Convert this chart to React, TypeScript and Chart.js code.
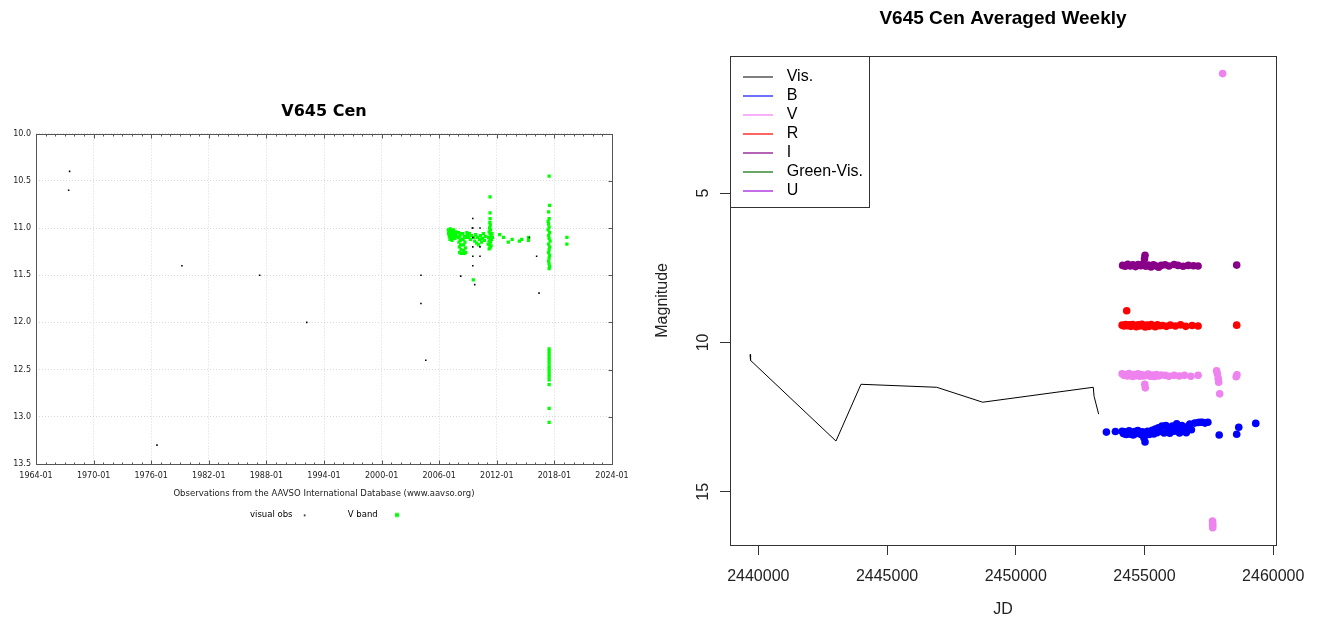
import { useEffect, useRef } from "react";
import { Chart, registerables } from "chart.js";

Chart.register(...registerables);

// ================= Left panel: AAVSO light curve =================
const leftTitle = "V645 Cen";
const leftXTitle = "Observations from the AAVSO International Database (www.aavso.org)";
const leftXTicks = [1964, 1970, 1976, 1982, 1988, 1994, 2000, 2006, 2012, 2018, 2024];
const leftYTicks = [10.0, 10.5, 11.0, 11.5, 12.0, 12.5, 13.0, 13.5];
const leftSeriesNames = ["visual obs", "V band"];

// [decimal year, magnitude]
const visualObs: [number, number][] = [
  [1967.5, 10.4], [1967.4, 10.6], [1976.6, 13.3], [1979.2, 11.4], [1987.3, 11.5],
  [1992.2, 12.0], [2004.1, 11.5], [2004.1, 11.8], [2004.6, 12.4], [2008.24, 11.51],
  [2009.5, 10.9], [2009.5, 11.0], [2009.45, 11.0], [2009.5, 11.1], [2009.5, 11.2],
  [2009.5, 11.3], [2009.5, 11.4], [2009.7, 11.6], [2010.25, 11.0], [2010.25, 11.2],
  [2010.25, 11.3], [2015.4, 11.1], [2016.15, 11.3], [2016.4, 11.69],
];

const vBand: [number, number][] = [
  [2006.95, 11.02], [2006.98, 11.06], [2007.02, 11.03], [2007.05, 11.09], [2007.08, 11.05],
  [2007.12, 11.12], [2007.15, 11.01], [2007.18, 11.07], [2007.22, 11.1], [2007.25, 11.04],
  [2007.3, 11.08], [2007.34, 11.13], [2007.38, 11.03], [2007.42, 11.06], [2007.46, 11.1],
  [2007.5, 11.02], [2007.55, 11.08], [2007.6, 11.05], [2007.65, 11.11], [2007.7, 11.07],
  [2007.75, 11.04], [2007.8, 11.09],
  [2008.0, 11.05], [2008.03, 11.1], [2008.06, 11.15], [2008.1, 11.2], [2008.13, 11.26],
  [2008.17, 11.08], [2008.2, 11.13], [2008.23, 11.18], [2008.27, 11.23], [2008.3, 11.27],
  [2008.33, 11.12], [2008.35, 11.06],
  [2008.45, 11.06], [2008.5, 11.12], [2008.53, 11.18], [2008.57, 11.24], [2008.6, 11.27],
  [2008.64, 11.09], [2008.68, 11.15], [2008.72, 11.21], [2008.76, 11.26], [2008.8, 11.1],
  [2008.88, 11.05], [2008.95, 11.08], [2009.05, 11.1], [2009.15, 11.06], [2009.25, 11.12],
  [2009.35, 11.08], [2009.55, 11.55], [2009.6, 11.1], [2009.7, 11.14], [2009.8, 11.07],
  [2009.9, 11.16], [2010.0, 11.1], [2010.1, 11.18], [2010.2, 11.12], [2010.3, 11.08],
  [2010.4, 11.15], [2010.5, 11.11], [2010.6, 11.06], [2010.7, 11.13], [2010.8, 11.09],
  [2011.3, 10.67], [2011.3, 10.84], [2011.3, 10.9], [2011.28, 10.94], [2011.32, 10.97],
  [2011.25, 11.0], [2011.35, 11.02], [2011.2, 11.04], [2011.3, 11.06], [2011.4, 11.08],
  [2011.15, 11.1], [2011.3, 11.11], [2011.45, 11.12], [2011.2, 11.14], [2011.35, 11.15],
  [2011.1, 11.17], [2011.25, 11.18], [2011.4, 11.19], [2011.3, 11.21], [2011.2, 11.22],
  [2011.55, 11.1], [2011.5, 11.06],
  [2012.3, 11.07], [2012.7, 11.1], [2013.2, 11.15], [2013.6, 11.12], [2014.35, 11.14],
  [2014.6, 11.12], [2015.3, 11.1], [2015.3, 11.13],
  [2017.45, 10.45], [2017.5, 10.76], [2017.4, 10.83], [2017.45, 10.9], [2017.35, 10.93],
  [2017.4, 10.96], [2017.45, 10.99], [2017.35, 11.02], [2017.5, 11.05], [2017.4, 11.08],
  [2017.45, 11.11], [2017.55, 11.14], [2017.4, 11.17], [2017.5, 11.2], [2017.45, 11.23],
  [2017.4, 11.26], [2017.5, 11.29], [2017.45, 11.32], [2017.4, 11.35], [2017.45, 11.38],
  [2017.5, 11.41], [2017.45, 11.43],
  [2017.45, 12.28], [2017.45, 12.31], [2017.45, 12.34], [2017.45, 12.37], [2017.45, 12.4],
  [2017.45, 12.43], [2017.45, 12.46], [2017.45, 12.49], [2017.45, 12.52], [2017.45, 12.55],
  [2017.45, 12.58], [2017.45, 12.61], [2017.45, 12.66], [2017.45, 12.91], [2017.45, 13.06],
  [2019.3, 11.1], [2019.3, 11.17],
];

// ================= Right panel: weekly averages =================
const rightTitle = "V645 Cen Averaged Weekly";
const rightXTitle = "JD";
const rightYTitle = "Magnitude";
const rightXTicks = [2440000, 2445000, 2450000, 2455000, 2460000];
const rightYTicks = [5, 10, 15];
const legendNames = ["Vis.", "B", "V", "R", "I", "Green-Vis.", "U"];
const legendColors = ["#7f7f7f", "#7070ff", "#f8b0f8", "#ff6464", "#b464b4", "#6aa66a", "#c46ee8"];
const dotColors = { B: "#0000ff", V: "#ee82ee", R: "#ff0000", I: "#880088" };

// [JD, magnitude]
const visCurve: [number, number][] = [
  [2439678, 10.4], [2439700, 10.6], [2443017, 13.3], [2443988, 11.4], [2446928, 11.5],
  [2448714, 12.0], [2453010, 11.5], [2453040, 11.8], [2453219, 12.4],
];

const bBand: [number, number][] = [
  [2453520, 13.0], [2453870, 12.98], [2454130, 12.97], [2454180, 13.05], [2454230, 12.99],
  [2454290, 13.08], [2454340, 13.02], [2454400, 12.96], [2454450, 13.07], [2454500, 13.01],
  [2454560, 13.1], [2454620, 12.98], [2454680, 13.05], [2454740, 12.95], [2454800, 13.03],
  [2454860, 13.08], [2454920, 12.99], [2454980, 13.2], [2455020, 13.33], [2455060, 13.05],
  [2455120, 12.97], [2455180, 13.08], [2455240, 13.0], [2455300, 12.94], [2455360, 13.06],
  [2455420, 12.9], [2455480, 13.02], [2455540, 12.86], [2455600, 12.98], [2455680, 12.8],
  [2455760, 13.03], [2455830, 12.78], [2455900, 12.95], [2455980, 13.04], [2456080, 12.8],
  [2456150, 12.97], [2456250, 12.72], [2456300, 12.9], [2456360, 13.03], [2456450, 12.78],
  [2456520, 12.95], [2456620, 13.02], [2456700, 12.8], [2456760, 12.73], [2456820, 12.92],
  [2456950, 12.7], [2457080, 12.68], [2457160, 12.67], [2457250, 12.67], [2457350, 12.7],
  [2457460, 12.67], [2457900, 13.1], [2458580, 13.07], [2458660, 12.84], [2459320, 12.71],
];

const vBandWeekly: [number, number][] = [
  [2454130, 11.05], [2454200, 11.1], [2454270, 11.07], [2454340, 11.12], [2454400, 11.04],
  [2454470, 11.1], [2454540, 11.14], [2454600, 11.07], [2454680, 11.11], [2454750, 11.05],
  [2454820, 11.13], [2454900, 11.08], [2454970, 11.12], [2455010, 11.4], [2455030, 11.52],
  [2455060, 11.1], [2455140, 11.06], [2455220, 11.13], [2455300, 11.09], [2455380, 11.14],
  [2455460, 11.07], [2455550, 11.12], [2455650, 11.09], [2455800, 11.1], [2455950, 11.13],
  [2456150, 11.1], [2456350, 11.12], [2456550, 11.1], [2456800, 11.13], [2457080, 11.1],
  [2457800, 10.95], [2457830, 11.05], [2457860, 11.2], [2457880, 11.33], [2457920, 11.72],
  [2458035, 1.0], [2457640, 15.98], [2457650, 16.06], [2457645, 16.13], [2457650, 16.2],
  [2458560, 11.15], [2458590, 11.08],
];

const rBand: [number, number][] = [
  [2454130, 9.42], [2454200, 9.45], [2454270, 9.4], [2454308, 8.94], [2454340, 9.44],
  [2454400, 9.41], [2454470, 9.46], [2454540, 9.4], [2454600, 9.43], [2454680, 9.47],
  [2454750, 9.41], [2454820, 9.45], [2454900, 9.39], [2454970, 9.44], [2455030, 9.48],
  [2455100, 9.42], [2455180, 9.46], [2455260, 9.4], [2455340, 9.44], [2455420, 9.47],
  [2455500, 9.41], [2455600, 9.44], [2455700, 9.43], [2455850, 9.46], [2456000, 9.42],
  [2456200, 9.45], [2456400, 9.41], [2456600, 9.46], [2456850, 9.43], [2457080, 9.45],
  [2458580, 9.42],
];

const iBand: [number, number][] = [
  [2454150, 7.42], [2454250, 7.45], [2454350, 7.38], [2454450, 7.44], [2454550, 7.4],
  [2454650, 7.46], [2454750, 7.39], [2454850, 7.43], [2454950, 7.37], [2455000, 7.2],
  [2455020, 7.08], [2455050, 7.45], [2455150, 7.41], [2455250, 7.47], [2455350, 7.4],
  [2455450, 7.44], [2455550, 7.48], [2455650, 7.42], [2455800, 7.4], [2455950, 7.44],
  [2456150, 7.39], [2456300, 7.42], [2456500, 7.45], [2456700, 7.42], [2456900, 7.43],
  [2457080, 7.44], [2458580, 7.41],
];

const toXY = (arr: [number, number][]) => arr.map(([x, y]) => ({ x, y }));

function makeCanvas(w: number, h: number, draw: (g: CanvasRenderingContext2D) => void) {
  const c = document.createElement("canvas");
  c.width = w;
  c.height = h;
  const g = c.getContext("2d")!;
  draw(g);
  return c;
}

const LEFT_FONT = "DejaVu Sans";
const RIGHT_FONT = "Liberation Sans";

function LeftPanel() {
  const ref = useRef<HTMLCanvasElement>(null);
  useEffect(() => {
    const markerVisual = makeCanvas(44, 9, (g) => {
      g.fillStyle = "#000";
      g.fillRect(7, 4, 1.6, 1.6);
    });
    const markerV = makeCanvas(44, 9, (g) => {
      g.fillStyle = "#00ff00";
      g.fillRect(13, 2.5, 4, 4);
    });
    const markers = [markerVisual, markerV];

    const frame = {
      id: "leftFrame",
      afterLayout(chart: any) {
        const lg = chart.legend;
        if (lg) {
          lg.left += 28;
          lg.right += 28;
        }
      },
      afterDraw(chart: any) {
        const { ctx, chartArea: a } = chart;
        const xs = chart.scales.x;
        const ys = chart.scales.y;
        const L = Math.round(a.left) + 0.5;
        const R = Math.round(a.right) + 0.5;
        const T = Math.round(a.top) + 0.5;
        const B = Math.round(a.bottom) + 0.5;
        ctx.save();
        ctx.strokeStyle = "#555";
        ctx.lineWidth = 1;
        ctx.strokeRect(L, T, R - L, B - T);
        ctx.beginPath();
        const first = leftXTicks[0];
        const last = leftXTicks[leftXTicks.length - 1];
        for (let yr = first; yr <= last; yr++) {
          const px = Math.round(xs.getPixelForValue(yr)) + 0.5;
          const len = leftXTicks.includes(yr) ? 4 : 2;
          ctx.moveTo(px, B);
          ctx.lineTo(px, B - len);
          ctx.moveTo(px, T);
          ctx.lineTo(px, T + len);
        }
        for (const v of leftYTicks) {
          const py = Math.round(ys.getPixelForValue(v)) + 0.5;
          ctx.moveTo(R, py);
          ctx.lineTo(R - 4, py);
        }
        ctx.stroke();
        ctx.restore();
      },
    };

    const chart = new Chart(ref.current!, {
      type: "scatter",
      data: {
        datasets: [
          {
            label: leftSeriesNames[0],
            data: toXY(visualObs),
            pointStyle: "rect",
            pointRadius: 1.1,
            backgroundColor: "#000",
            borderWidth: 0,
          },
          {
            label: leftSeriesNames[1],
            data: toXY(vBand),
            pointStyle: "rect",
            pointRadius: 2.3,
            backgroundColor: "#00ff00",
            borderWidth: 0,
          },
        ],
      },
      options: {
        responsive: false,
        maintainAspectRatio: false,
        devicePixelRatio: 1,
        animation: false,
        events: [],
        layout: { padding: { left: 8, right: 38, top: 90, bottom: 89.8 } },
        plugins: {
          tooltip: { enabled: false },
          title: {
            display: true,
            text: leftTitle,
            fullSize: false,
            color: "#000",
            font: { family: LEFT_FONT, size: 16, weight: "bold" },
            padding: { top: 12.4, bottom: 12 },
          },
          legend: {
            position: "bottom",
            rtl: true,
            reverse: true,
            labels: {
              usePointStyle: true,
              pointStyleWidth: 44,
              padding: 7,
              color: "#000",
              font: { family: LEFT_FONT, size: 8.5 },
              generateLabels: () =>
                leftSeriesNames.map((name, i) => ({
                  text: name,
                  pointStyle: markers[i] as any,
                  fillStyle: "#000",
                  strokeStyle: "#000",
                  lineWidth: 0,
                  hidden: false,
                  datasetIndex: i,
                })),
            },
          },
        },
        scales: {
          x: {
            type: "linear",
            min: leftXTicks[0],
            max: leftXTicks[leftXTicks.length - 1],
            afterBuildTicks: (s: any) => {
              s.ticks = leftXTicks.map((v) => ({ value: v }));
            },
            afterFit: (s: any) => {
              s.height = 39.7;
            },
            ticks: {
              autoSkip: false,
              maxRotation: 0,
              padding: 7,
              color: "#222",
              font: { family: LEFT_FONT, size: 8 },
              callback: (v: any) => `${v}-01`,
            },
            grid: { color: "#d8d8d8", lineWidth: 1, drawTicks: false },
            border: { display: false, dash: [1, 2] },
            title: {
              display: true,
              text: leftXTitle,
              color: "#222",
              font: { family: LEFT_FONT, size: 8.5 },
              padding: { top: 10.3, bottom: 4.6 },
            },
          },
          y: {
            type: "linear",
            reverse: true,
            min: leftYTicks[0],
            max: leftYTicks[leftYTicks.length - 1],
            afterBuildTicks: (s: any) => {
              s.ticks = leftYTicks.map((v) => ({ value: v }));
            },
            afterFit: (s: any) => {
              s.width = 28;
            },
            ticks: {
              autoSkip: false,
              padding: 5,
              color: "#222",
              font: { family: LEFT_FONT, size: 8 },
              callback: (v: any) => Number(v).toFixed(1),
            },
            grid: { color: "#d8d8d8", lineWidth: 1, drawTicks: false },
            border: { display: false, dash: [1, 2] },
          },
        },
      },
      plugins: [frame],
    } as any);
    return () => chart.destroy();
  }, []);
  return (
    <canvas
      ref={ref}
      width={650}
      height={619}
      style={{ position: "absolute", left: 0, top: 0, width: 650, height: 619 }}
    />
  );
}

function RightPanel() {
  const ref = useRef<HTMLCanvasElement>(null);
  useEffect(() => {
    const lineImgs = legendColors.map((c) =>
      makeCanvas(30, 2, (g) => {
        g.fillStyle = c;
        g.fillRect(0, 0, 30, 2);
      })
    );

    const frame = {
      id: "rightFrame",
      afterLayout(chart: any) {
        const lg = chart.legend;
        const a = chart.chartArea;
        if (lg) {
          const w = lg.width;
          const h = lg.height;
          lg.left = a.left + 4.3;
          lg.top = a.top + 10.3;
          lg.right = lg.left + w;
          lg.bottom = lg.top + h;
        }
      },
      afterDraw(chart: any) {
        const { ctx, chartArea: a } = chart;
        const L = Math.round(a.left) + 0.5;
        const R = Math.round(a.right) + 0.5;
        const T = Math.round(a.top) + 0.5;
        const B = Math.round(a.bottom) + 0.5;
        ctx.save();
        ctx.strokeStyle = "#333";
        ctx.lineWidth = 1;
        ctx.strokeRect(L, T, R - L, B - T);
        ctx.strokeRect(L, T, 139, 151);
        ctx.restore();
      },
    };

    const chart = new Chart(ref.current!, {
      type: "scatter",
      data: {
        datasets: [
          {
            label: legendNames[0],
            data: toXY(visCurve),
            showLine: true,
            borderColor: "#000",
            borderWidth: 1,
            pointRadius: 0,
            tension: 0,
          },
          {
            label: legendNames[1],
            data: toXY(bBand),
            pointRadius: 3.8,
            pointStyle: "circle",
            backgroundColor: dotColors.B,
            borderWidth: 0,
          },
          {
            label: legendNames[2],
            data: toXY(vBandWeekly),
            pointRadius: 3.8,
            pointStyle: "circle",
            backgroundColor: dotColors.V,
            borderWidth: 0,
          },
          {
            label: legendNames[3],
            data: toXY(rBand),
            pointRadius: 3.8,
            pointStyle: "circle",
            backgroundColor: dotColors.R,
            borderWidth: 0,
          },
          {
            label: legendNames[4],
            data: toXY(iBand),
            pointRadius: 3.8,
            pointStyle: "circle",
            backgroundColor: dotColors.I,
            borderWidth: 0,
          },
        ],
      },
      options: {
        responsive: false,
        maintainAspectRatio: false,
        devicePixelRatio: 1,
        animation: false,
        events: [],
        layout: { padding: { left: 0, right: 41, top: 0, bottom: 0 } },
        plugins: {
          tooltip: { enabled: false },
          title: {
            display: true,
            text: rightTitle,
            fullSize: false,
            color: "#000",
            font: { family: RIGHT_FONT, size: 19, weight: "bold" },
            padding: { top: 7.6, bottom: 25.3 },
          },
          legend: {
            position: "chartArea",
            align: "start",
            labels: {
              usePointStyle: true,
              pointStyleWidth: 41.4,
              padding: 3,
              color: "#000",
              font: { family: RIGHT_FONT, size: 16 },
              generateLabels: () =>
                legendNames.map((name, i) => ({
                  text: name,
                  pointStyle: lineImgs[i] as any,
                  fillStyle: legendColors[i],
                  strokeStyle: legendColors[i],
                  lineWidth: 0,
                  hidden: false,
                  datasetIndex: i,
                })),
            },
          },
        },
        scales: {
          x: {
            type: "linear",
            min: 2438901,
            max: 2460105,
            afterBuildTicks: (s: any) => {
              s.ticks = rightXTicks.map((v) => ({ value: v }));
            },
            afterFit: (s: any) => {
              s.height = 74;
            },
            ticks: {
              autoSkip: false,
              maxRotation: 0,
              padding: 12.4,
              color: "#222",
              font: { family: RIGHT_FONT, size: 16 },
              callback: (v: any) => String(v),
            },
            grid: {
              display: true,
              drawOnChartArea: false,
              drawTicks: true,
              tickLength: 10,
              tickColor: "#333",
              tickWidth: 1,
            },
            border: { display: false },
            title: {
              display: true,
              text: rightXTitle,
              color: "#222",
              font: { family: RIGHT_FONT, size: 16 },
              padding: { top: 17.8, bottom: 0 },
            },
          },
          y: {
            type: "linear",
            reverse: true,
            min: 0.4,
            max: 16.78,
            afterBuildTicks: (s: any) => {
              s.ticks = rightYTicks.map((v) => ({ value: v }));
            },
            afterFit: (s: any) => {
              s.width = 80;
            },
            ticks: {
              autoSkip: false,
              minRotation: 90,
              maxRotation: 90,
              crossAlign: "center",
              padding: 7.6,
              color: "#222",
              font: { family: RIGHT_FONT, size: 16 },
              callback: (v: any) => String(v),
            },
            grid: {
              display: true,
              drawOnChartArea: false,
              drawTicks: true,
              tickLength: 10,
              tickColor: "#333",
              tickWidth: 1,
            },
            border: { display: false },
            title: {
              display: true,
              text: rightYTitle,
              color: "#222",
              font: { family: RIGHT_FONT, size: 16 },
              padding: { top: 3.4, bottom: 0 },
            },
          },
        },
      },
      plugins: [frame],
    } as any);
    return () => chart.destroy();
  }, []);
  return (
    <canvas
      ref={ref}
      width={667}
      height={619}
      style={{ position: "absolute", left: 650, top: 0, width: 667, height: 619 }}
    />
  );
}

export default function App() {
  return (
    <div
      style={{
        position: "fixed",
        left: 0,
        top: 0,
        width: 1317,
        height: 619,
        background: "#fff",
        overflow: "hidden",
      }}
    >
      <LeftPanel />
      <RightPanel />
    </div>
  );
}
